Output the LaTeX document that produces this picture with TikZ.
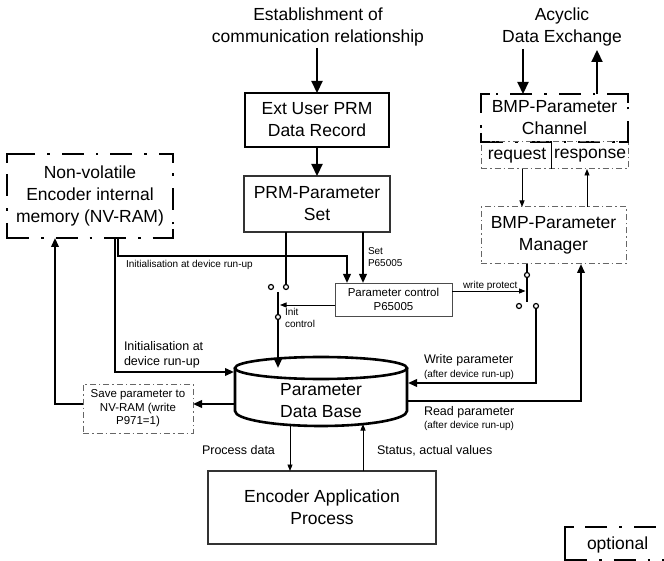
\documentclass[tikz,border=0pt]{standalone}
\usepackage{fontspec}
\setmainfont{Liberation Sans}
\usetikzlibrary{arrows.meta}
\newcommand{\ddcorners}[1]{%
  \draw[cornerln] ([yshift=-9pt]#1.north west) |- ([xshift=9pt]#1.north west);
  \draw[cornerln] ([yshift=-9pt]#1.north east) |- ([xshift=-9pt]#1.north east);
  \draw[cornerln] ([yshift=9pt]#1.south west) |- ([xshift=9pt]#1.south west);
  \draw[cornerln] ([yshift=9pt]#1.south east) |- ([xshift=-9pt]#1.south east);
}
\begin{document}
\begin{tikzpicture}[x=1pt,y=-1pt,
  every node/.style={inner sep=0pt, outer sep=0pt},
  big/.style={font=\fontsize{17.5}{22}\selectfont, align=center},
  mid/.style={font=\fontsize{12.5}{15}\selectfont, align=left},
  sml/.style={font=\fontsize{11.5}{13.5}\selectfont, align=center},
  tny/.style={font=\fontsize{10}{11.5}\selectfont, align=left},
  thk/.style={line width=2pt},
  bigarr/.style={line width=2.2pt, -{Triangle[length=12pt,width=11pt]}},
  arr/.style={line width=2pt, -{Triangle[length=9pt,width=7.5pt]}},
  tarr/.style={line width=0.9pt, -{Triangle[length=6.5pt,width=5pt]}},
  thickdd/.style={draw, line width=2.5pt, dash pattern=on 22pt off 12pt on 2.5pt off 12pt},
  thindd/.style={draw=black!60, line width=1pt, dash pattern=on 6pt off 3pt on 1.5pt off 3pt},
  cornerln/.style={line width=2.5pt},
  swc/.style={circle, draw, line width=1.2pt, fill=white, minimum size=5pt},
]
\clip (0,0) rectangle (664,561);
\fill[white] (0,0) rectangle (664,561);

% ---------- nodes ----------
\node[big] (estab) at (318,26.5) {Establishment of\\communication relationship};
\node[big] (acyc) at (562,26.5) {Acyclic\\Data Exchange};
\node[big, draw, line width=2.2pt, minimum width=144pt, minimum height=54pt] (ext) at (317,120) {Ext User PRM\\Data Record};
\node[big, draw=black!80, line width=1.3pt, minimum width=146pt, minimum height=56pt] (prm) at (317,204) {PRM-Parameter\\Set};
\node[big, thickdd, minimum width=166pt, minimum height=84pt] (nv) at (90,196) {Non-volatile\\Encoder internal\\memory (NV-RAM)};
\node[big, thickdd, minimum width=147pt, minimum height=48pt] (ch) at (554.5,118) {BMP-Parameter\\Channel};
\node[thindd, minimum width=147pt, minimum height=27pt] (rr) at (554.5,155.5) {};
\node[big] (req) at (517,156) {request};
\node[big] (resp) at (590,156) {response};
\node[big, thindd, minimum width=145pt, minimum height=57pt] (mgr) at (553.5,235.5) {BMP-Parameter\\Manager};
\node[sml, draw=black!70, line width=0.9pt, minimum width=117pt, minimum height=33pt] (pc) at (393.5,299.5) {Parameter control\\P65005};
\node[sml, thindd, minimum width=110pt, minimum height=49pt] (save) at (138,408.5) {Save parameter to\\NV-RAM (write\\P971=1)};
\node[big, draw=black!80, line width=1.2pt, minimum width=228pt, minimum height=73pt] (enc) at (322,507.5) {Encoder Application\\Process};
\node[thickdd, minimum width=150pt, minimum height=33pt, anchor=north west] (opt) at (565,527) {};
\node[big, anchor=base west] (optl) at (587,549) {optional};
\ddcorners{nv}
\ddcorners{ch}
\ddcorners{opt}

% ---------- database cylinder ----------
\draw[line width=2.6pt] (235,368) -- (235,411) arc[start angle=180, end angle=0, x radius=86, y radius=15] -- (407,368);
\draw[line width=2.6pt] (321,368) ellipse[x radius=86, y radius=11];
\node[big] (db) at (321,401) {Parameter\\Data Base};

% ---------- coordinates ----------
\coordinate (estabEnd) at (317,48);
\coordinate (acIn) at (523,49);
\coordinate (acOut) at (597,50);
\coordinate (reqx) at (522,0);
\coordinate (respx) at (587,0);
\coordinate (divx) at (551,0);
\coordinate (b1) at (278,292);
\coordinate (dbT) at (278,368);
\coordinate (initEnd) at (280,305);
\coordinate (setx) at (363,0);
\coordinate (nx1) at (118,0);
\coordinate (ib) at (347,256);
\coordinate (nx2) at (115,0);
\coordinate (dbL1) at (234,372);
\coordinate (dbL2) at (235,404);
\coordinate (nx3) at (55,0);
\coordinate (b2) at (527,302);
\coordinate (wp) at (525.5,291);
\coordinate (dbR1) at (408,383);
\coordinate (dbR2) at (406,401);
\coordinate (rx) at (581,0);
\coordinate (dbB1) at (290,424);
\coordinate (dbB2) at (363,424);

% ---------- connectors ----------
\draw[bigarr] (estabEnd) -- (ext.north);
\draw[bigarr] (ext.south) -- (prm.north);
\draw[bigarr] (acIn) -- (ch.north -| acIn);
\draw[bigarr] (ch.north -| acOut) -- (acOut);
\draw[tarr] (rr.south -| reqx) -- (mgr.north -| reqx);
\draw[tarr] (mgr.north -| respx) -- (rr.south -| respx);
\draw[line width=1pt] (rr.north -| divx) -- (rr.south -| divx);

% left switch
\node[swc] (c1) at (271,287) {};
\node[swc] (c2) at (286,287) {};
\draw[thk] (prm.south -| c2) -- (c2.north);
\draw[arr] (b1) -- (dbT);
\node[swc] (c3) at (278,317) {};
\node[tny, anchor=west] (initc) at (285,318) {Init\\control};
\draw[tarr] (pc.west |- initEnd) -- (initEnd);

% set
\draw[arr] (prm.south -| setx) -- (pc.north -| setx);
\node[tny, anchor=west] (setl) at (368,257) {Set\\P65005};

% initialisation (top)
\draw[arr] (nv.south -| nx1) |- (ib) -- (pc.north -| ib);
\node[tny, anchor=base west] (initl) at (126,267.5) {Initialisation at device run-up};

% initialisation (lower)
\draw[arr] (nv.south -| nx2) |- (dbL1);
\node[mid, anchor=west] (initm) at (124,354.5) {Initialisation at\\device run-up};

% save
\draw[arr] (dbL2) -- (save.east |- dbL2);
\draw[arr] (save.west |- dbL2) -| (nv.south -| nx3);

% right switch
\draw[thk] (mgr.south -| b2) -- (b2);
\node[swc] (c4) at (527,275) {};
\node[swc] (c5) at (519,306) {};
\node[swc] (c6) at (536,306) {};
\draw[tarr] (pc.east |- wp) -- (wp);
\node[tny, anchor=base west] (wpl) at (463,289) {write protect};

% write / read parameter
\draw[arr] (c6.south) |- (dbR1);
\draw[arr] (dbR2) -| (mgr.south -| rx);
\node[mid, anchor=base west] (wpar) at (424,363.5) {Write parameter};
\node[tny, anchor=base west] (wpar2) at (424,377) {(after device run-up)};
\node[mid, anchor=base west] (rpar) at (424,415.5) {Read parameter};
\node[tny, anchor=base west] (rpar2) at (424,428.5) {(after device run-up)};

% process data / status
\draw[tarr] (dbB1) -- (enc.north -| dbB1);
\draw[tarr] (enc.north -| dbB2) -- (dbB2);
\node[mid, anchor=base west] (pdl) at (202,454.5) {Process data};
\node[mid, anchor=base west] (stl) at (377,454.5) {Status, actual values};
\end{tikzpicture}
\end{document}
